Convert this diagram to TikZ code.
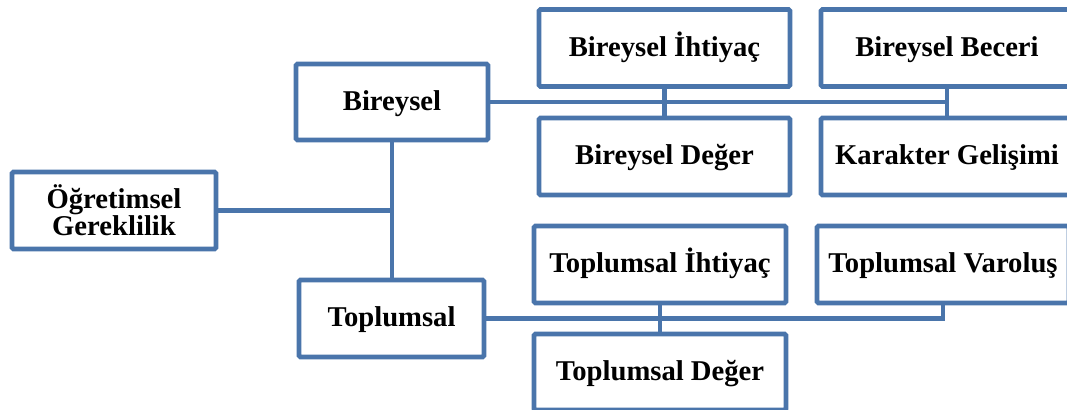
\documentclass[tikz,border=0pt]{standalone}
\usepackage{fontspec}
\setmainfont{Liberation Serif}
\definecolor{boxblue}{RGB}{74,117,171}
\begin{document}
\begin{tikzpicture}[x=0.75pt,y=-0.75pt,
  box/.style={draw=boxblue,line width=3.4pt,rounded corners=1pt,rectangle,
    inner sep=0pt,outer sep=0pt,align=center,
    font=\fontsize{21.5}{20.5}\selectfont\bfseries,text=black},
  onebox/.style={box,text height=16.6pt,text depth=4pt},
  conn/.style={draw=boxblue,line width=3.4pt}]
\clip (0,0) rectangle (1067,410);
\node[box,minimum width=204*0.75pt,minimum height=77*0.75pt] (og) at (114,210.5) {Öğretimsel\\Gereklilik};
\node[onebox,minimum width=192*0.75pt,minimum height=76*0.75pt] (bir) at (392,102) {Bireysel};
\node[onebox,minimum width=185*0.75pt,minimum height=77*0.75pt] (top) at (391.5,318.5) {Toplumsal};
\node[onebox,minimum width=251*0.75pt,minimum height=77*0.75pt] (bih) at (664.5,48) {Bireysel İhtiyaç};
\node[onebox,minimum width=252*0.75pt,minimum height=77*0.75pt] (bbe) at (947,48) {Bireysel Beceri};
\node[onebox,minimum width=251*0.75pt,minimum height=77*0.75pt] (bde) at (664.5,156.5) {Bireysel Değer};
\node[onebox,minimum width=252*0.75pt,minimum height=77*0.75pt] (kar) at (947,156.5) {Karakter Gelişimi};
\node[onebox,minimum width=252*0.75pt,minimum height=77*0.75pt] (tih) at (660,264.5) {Toplumsal İhtiyaç};
\node[onebox,minimum width=252*0.75pt,minimum height=77*0.75pt] (tva) at (943,264.5) {Toplumsal Varoluş};
\node[onebox,minimum width=252*0.75pt,minimum height=76*0.75pt] (tde) at (660,372) {Toplumsal Değer};
\draw[conn] (og.east) -- (og.east -| bir.south);
\draw[conn] (bir.south) -- (bir.south |- top.north);
\draw[conn] (bir.east) -- (bir.east -| bbe.south);
\draw[conn] (bih.south) -- (bde.north);
\draw[conn] (bbe.south) -- (kar.north);
\draw[conn] (top.east) -- (top.east -| tva.south) -- (tva.south);
\draw[conn] (tih.south) -- (tde.north);
\end{tikzpicture}
\end{document}
